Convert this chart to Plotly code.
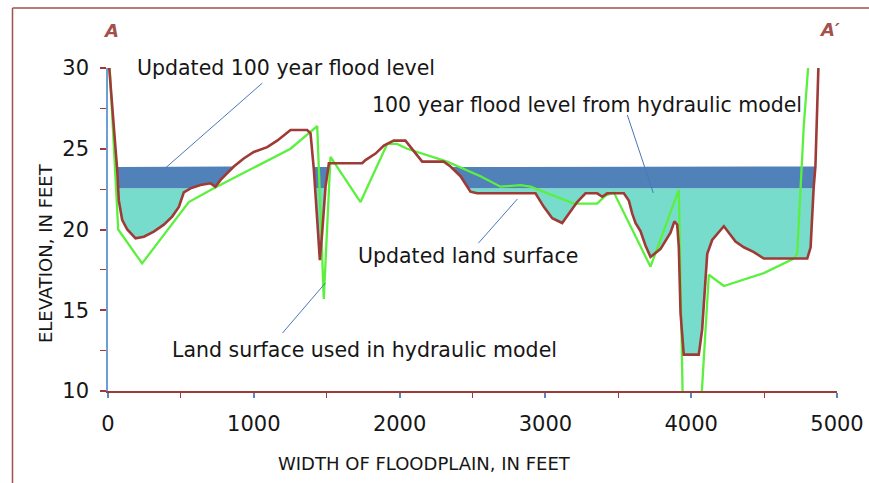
import plotly.graph_objects as go

# ---------------- data ----------------
updated_x = [5, 17, 40, 63, 74, 97, 132, 189, 246, 314, 383, 440, 486, 520, 566, 634, 703, 737,
             772, 818, 863, 931, 1000, 1092, 1160, 1252, 1366, 1389, 1412, 1435, 1453, 1469,
             1492, 1515, 1743, 1766, 1800, 1835, 1892, 1960, 2040, 2075, 2155, 2303, 2349,
             2418, 2486, 2532, 2932, 2989, 3047, 3115, 3161, 3218, 3275, 3355, 3390, 3424,
             3538, 3572, 3595, 3618, 3652, 3687, 3721, 3790, 3858, 3885, 3904, 3915, 3927,
             3949, 4052, 4075, 4098, 4110, 4144, 4189, 4224, 4258, 4304, 4361, 4430, 4498,
             4796, 4819, 4830, 4840, 4852, 4864, 4874]
updated_y = [30.4, 29.05, 26.4, 23.7, 21.8, 20.6, 20.0, 19.45, 19.55, 19.87, 20.3, 20.8, 21.4,
             22.3, 22.55, 22.76, 22.86, 22.65, 23.07, 23.5, 23.9, 24.4, 24.8, 25.1, 25.5, 26.16,
             26.16, 25.95, 23.7, 20.6, 18.1, 19.8, 22.65, 24.1, 24.1, 24.3, 24.5, 24.7, 25.2,
             25.5, 25.5, 25.1, 24.2, 24.2, 23.9, 23.3, 22.34, 22.24, 22.24, 21.4, 20.7, 20.4,
             21.0, 21.7, 22.24, 22.24, 22.03, 22.24, 22.24, 21.8, 21.0, 20.4, 19.9, 19.0, 18.3,
             18.8, 19.8, 20.5, 20.3, 18.9, 14.8, 12.25, 12.25, 13.8, 16.9, 18.5, 19.35, 19.85,
             20.2, 19.8, 19.25, 18.9, 18.6, 18.2, 18.2, 18.9, 21.0, 22.6, 23.9, 28.4, 30.5]

model_x = [10, 50, 70, 234, 554, 726, 1252, 1435, 1480, 1526, 1732, 1915, 1983, 2052, 2326,
           2555, 2692, 2829, 2898, 3195, 3355, 3412, 3469, 3721, 3915, 3945, 4060, 4121, 4224,
           4498, 4704, 4727, 4772, 4806]
model_y = [30.3, 23.9, 20.0, 17.9, 21.7, 22.55, 25.0, 26.4, 15.7, 24.5, 21.7, 25.3, 25.3, 25.0,
           24.2, 23.3, 22.65, 22.75, 22.65, 21.6, 21.6, 22.1, 22.3, 17.7, 22.45, 8.0, 8.0, 17.2,
           16.5, 17.3, 18.2, 18.5, 26.4, 30.5]

updated_flood_level = 23.87
model_flood_level = 22.55

x_ticks = [0, 1000, 2000, 3000, 4000, 5000]
y_ticks = [10, 15, 20, 25, 30]

labels = {
    "updated_flood": "Updated 100 year flood level",
    "model_flood": "100 year flood level from hydraulic model",
    "updated_land": "Updated land surface",
    "model_land": "Land surface used in hydraulic model",
}

# ---------------- derived fill boundaries ----------------
def refine(xs, ys, levels):
    ox, oy = [xs[0]], [ys[0]]
    for i in range(1, len(xs)):
        x0, y0, x1, y1 = xs[i - 1], ys[i - 1], xs[i], ys[i]
        cross = []
        for L in levels:
            if (y0 - L) * (y1 - L) < 0:
                t = (L - y0) / (y1 - y0)
                cross.append((x0 + t * (x1 - x0), L))
        cross.sort()
        for cx, cy in cross:
            ox.append(cx)
            oy.append(cy)
        ox.append(x1)
        oy.append(y1)
    return ox, oy

rx, ry = refine(updated_x, updated_y, [updated_flood_level, model_flood_level])
teal_top = [max(v, model_flood_level) for v in ry]
blue_top = [max(v, updated_flood_level) for v in ry]

RED = "#9e3b37"
GREEN = "#5cf03e"
BLUE = "#5081b9"
TEAL = "#77dccb"
FRAME = "#a4504c"
TXT = "#161616"
FONT = "DejaVu Sans"

fig = go.Figure()
fig.add_trace(go.Scatter(x=rx, y=ry, mode="lines", line=dict(width=0, color=RED),
                         hoverinfo="skip", showlegend=False))
fig.add_trace(go.Scatter(x=rx, y=teal_top, mode="lines", line=dict(width=0),
                         fill="tonexty", fillcolor=TEAL, hoverinfo="skip", showlegend=False))
fig.add_trace(go.Scatter(x=rx, y=blue_top, mode="lines", line=dict(width=0),
                         fill="tonexty", fillcolor=BLUE, hoverinfo="skip", showlegend=False))
fig.add_trace(go.Scatter(x=model_x, y=model_y, mode="lines", name=labels["model_land"],
                         line=dict(width=2.3, color=GREEN), showlegend=False))
fig.add_trace(go.Scatter(x=updated_x, y=updated_y, mode="lines", name=labels["updated_land"],
                         line=dict(width=2.6, color=RED), showlegend=False))

# leader lines (data coordinates)
leaders = [
    ((1059, 29.07), (394, 23.81)),
    ((3562, 27.09), (3740, 22.26)),
    ((2808, 21.89), (2541, 19.16)),
    ((1491, 16.69), (1197, 13.59)),
]
shapes = []
for (x0, y0), (x1, y1) in leaders:
    shapes.append(dict(type="line", xref="x", yref="y", x0=x0, y0=y0, x1=x1, y1=y1,
                       line=dict(color="#4a78b8", width=1)))
# outer frame lines
shapes.append(dict(type="line", xref="paper", yref="paper", x0=-0.131, x1=1.05, y0=1.1858, y1=1.1858,
                   line=dict(color=FRAME, width=1.5)))
shapes.append(dict(type="line", xref="paper", yref="paper", x0=-0.131, x1=-0.131, y0=1.1858, y1=-0.3,
                   line=dict(color=FRAME, width=1.5)))

annos = [
    dict(x=182, y=30.0, text=labels["updated_flood"]),
    dict(x=1800, y=27.7, text=labels["model_flood"]),
    dict(x=1698, y=18.36, text=labels["updated_land"]),
    dict(x=422, y=12.54, text=labels["model_land"]),
]
annotations = []
for a in annos:
    a.update(xref="x", yref="y", showarrow=False, xanchor="left", yanchor="middle",
             font=dict(family=FONT, size=20.5, color=TXT))
    annotations.append(a)
annotations += [
    dict(xref="paper", yref="paper", x=0.434, y=-0.223, text="WIDTH OF FLOODPLAIN, IN FEET",
         xanchor="center", yanchor="middle",
         showarrow=False, font=dict(family=FONT, size=18, color=TXT)),
    dict(xref="paper", yref="paper", x=-0.0864, y=0.427, text="ELEVATION, IN FEET", textangle=-90,
         xanchor="center", yanchor="middle",
         showarrow=False, font=dict(family=FONT, size=18, color=TXT)),
    dict(xref="paper", yref="paper", x=0.004, y=1.1146, text="<b><i>A</i></b>",
         xanchor="center", yanchor="middle",
         showarrow=False, font=dict(family=FONT, size=18, color=FRAME)),
    dict(xref="paper", yref="paper", x=0.99, y=1.12, text="<b><i>A\u2032</i></b>",
         xanchor="center", yanchor="middle",
         showarrow=False, font=dict(family=FONT, size=18, color=FRAME)),
]

fig.update_layout(
    width=869, height=483,
    margin=dict(l=108, r=32, t=68, b=92, autoexpand=False),
    paper_bgcolor="white", plot_bgcolor="white",
    showlegend=False,
    shapes=shapes, annotations=annotations,
    font=dict(family=FONT, color=TXT),
    xaxis=dict(range=[0, 5000], tickvals=x_ticks, ticks="outside", ticklen=5, tickwidth=1.5,
               tickcolor="#5a86c0", showline=True, linecolor=RED, linewidth=1.5,
               showgrid=False, zeroline=False, ticklabelstandoff=8,
               tickfont=dict(family=FONT, size=21, color=TXT),
               minor=dict(dtick=500, ticks="outside", ticklen=5, tickcolor=RED, tickwidth=1.2)),
    yaxis=dict(range=[10, 30], tickvals=y_ticks, ticks="outside", ticklen=6, tickwidth=1.5,
               tickcolor=RED, showline=True, linecolor="#6d9fd6", linewidth=1.5,
               showgrid=False, zeroline=False, ticklabelstandoff=7,
               tickfont=dict(family=FONT, size=21, color=TXT),
               minor=dict(dtick=2.5, ticks="outside", ticklen=6, tickcolor=RED, tickwidth=1.2)),
)

fig.write_html("out.html", config={"displayModeBar": False},
               post_script="document.body.style.margin='0';document.body.style.overflow='hidden';")
